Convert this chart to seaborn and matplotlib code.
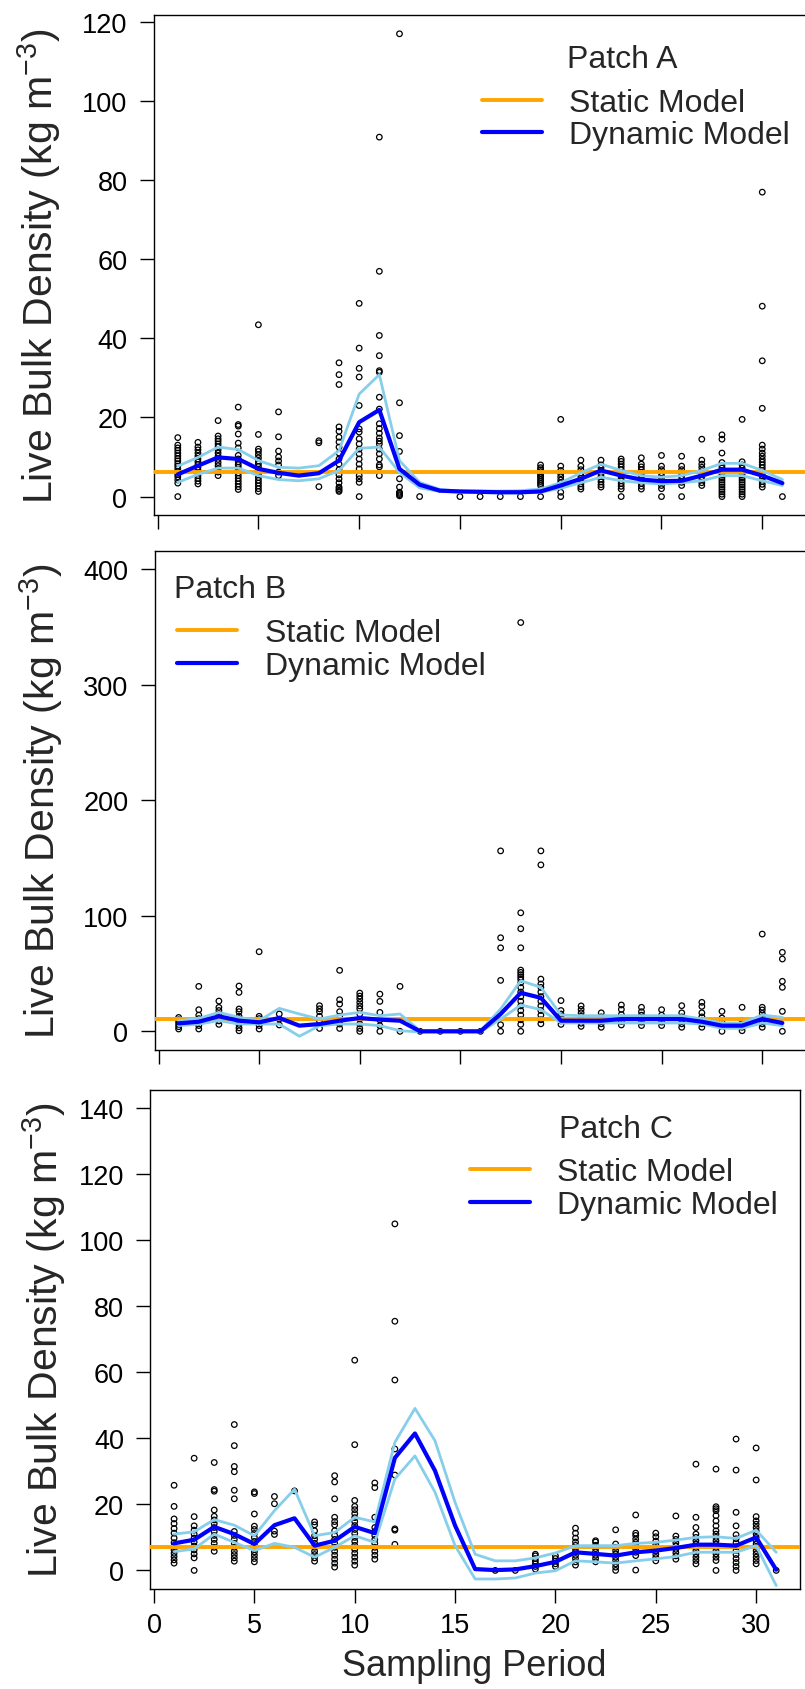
import matplotlib
matplotlib.use("Agg")
import matplotlib.pyplot as plt
import seaborn as sns
import pandas as pd
from matplotlib.lines import Line2D

# ---------------- data ----------------
periods = list(range(1, 32))
xticks = [0, 5, 10, 15, 20, 25, 30]

# Patch A observations (one list per sampling period 1..31)
a_points = [
    [0, 3.4, 4.2, 5.0, 5.6, 6.3, 7.0, 7.7, 8.3, 9.0, 9.6, 10.3, 11.0, 11.7, 12.3, 13.0, 14.9],
    [3.2, 3.9, 4.6, 5.3, 6.0, 6.7, 7.4, 8.1, 8.8, 9.5, 10.2, 11.0, 11.8, 12.5, 13.7],
    [5.3, 6.2, 7.0, 7.8, 8.6, 9.4, 10.2, 11.0, 11.8, 12.6, 13.3, 14.0, 14.6, 15.3, 19.2],
    [1.8, 2.5, 3.2, 3.9, 4.6, 5.3, 6.0, 6.7, 7.4, 8.1, 8.8, 9.5, 10.4, 12.3, 13.5, 15.8, 17.8, 18.2, 22.6],
    [1.3, 2.0, 2.7, 3.4, 4.1, 4.8, 5.5, 6.2, 6.9, 7.6, 8.3, 9.0, 9.8, 10.6, 11.4, 12.0, 15.7, 43.4],
    [5.3, 6.2, 8.0, 9.0, 10.0, 11.5, 15.1, 21.4],
    [],
    [2.5, 13.6, 14.1],
    [1.3, 1.6, 2.0, 2.4, 3.5, 4.5, 5.5, 6.8, 8.2, 9.5, 11.0, 12.5, 13.8, 15.0, 16.5, 17.6, 28.3, 30.8, 33.8],
    [0, 3.6, 4.5, 5.3, 7.0, 8.2, 9.5, 10.8, 12.0, 13.3, 14.6, 16.3, 17.1, 23.0, 30.2, 32.4, 37.5, 48.8],
    [5.3, 7.5, 8.0, 9.5, 10.8, 12.0, 13.3, 14.0, 14.8, 16.0, 17.2, 18.4, 22.1, 25.1, 31.4, 31.8, 35.6, 40.7, 56.9, 90.8],
    [0.2, 0.5, 0.8, 1.1, 2.4, 4.5, 11.4, 15.4, 23.7, 116.9],
    [0],
    [],
    [0], [0], [0], [0],
    [0, 2.8, 3.3, 3.8, 4.3, 4.8, 5.3, 5.8, 6.3, 6.8, 7.3, 8.0],
    [0, 1.1, 2.8, 3.5, 4.2, 5.0, 5.8, 6.6, 7.7, 19.5],
    [1.9, 2.5, 3.2, 3.9, 4.6, 5.3, 6.0, 6.8, 7.7, 9.2],
    [2.4, 3.0, 3.7, 4.4, 5.1, 5.8, 6.5, 7.3, 8.0, 9.2],
    [0, 1.9, 2.6, 3.3, 4.0, 4.7, 5.4, 6.1, 6.8, 7.5, 8.2, 8.9, 9.5],
    [1.9, 2.6, 3.3, 4.0, 4.7, 5.4, 6.1, 6.8, 7.5, 8.2, 9.8],
    [0, 2.0, 2.8, 3.6, 4.4, 5.2, 6.0, 6.8, 7.7, 10.4],
    [0, 2.8, 3.6, 4.4, 5.2, 6.0, 6.8, 7.7, 10.2],
    [2.8, 3.5, 4.2, 5.0, 5.8, 6.6, 7.4, 8.2, 9.2, 14.5],
    [0, 0.6, 1.2, 1.8, 2.4, 3.0, 3.6, 4.2, 4.8, 5.4, 6.0, 6.6, 7.2, 7.8, 8.6, 11.0, 14.5, 15.6],
    [0, 0.6, 1.2, 1.8, 2.4, 3.0, 3.6, 4.2, 4.8, 5.4, 6.0, 6.6, 7.2, 8.0, 8.8, 19.5],
    [2.4, 3.1, 3.8, 4.5, 5.2, 5.9, 6.6, 7.3, 8.0, 8.7, 9.4, 10.2, 11.0, 12.0, 13.0, 22.3, 34.3, 48.1, 76.9],
    [0],
]
a_mean = [5.6, 7.8, 9.9, 9.5, 7.0, 6.0, 5.3, 5.9, 9.1, 18.8, 21.9, 7.0, 3.0, 1.5, 1.3, 1.2,
          1.1, 1.1, 1.3, 2.8, 4.5, 6.6, 5.3, 4.3, 3.9, 4.0, 5.3, 6.8, 6.8, 5.3, 3.4]
a_upper = [7.7, 9.9, 12.5, 11.9, 9.1, 7.4, 7.2, 7.8, 11.6, 25.9, 30.8, 9.1, 3.6, 1.8, 1.4, 1.4,
           1.4, 1.5, 1.9, 3.5, 6.0, 8.2, 6.6, 5.3, 4.9, 5.3, 6.6, 8.4, 8.4, 6.6, 4.3]
a_lower = [3.6, 5.6, 7.2, 7.2, 5.3, 4.3, 4.0, 4.5, 6.6, 12.2, 12.5, 6.1, 2.2, 1.3, 1.1, 1.0,
           0.9, 0.9, 1.1, 2.1, 3.5, 4.9, 4.0, 3.5, 3.2, 3.5, 4.0, 5.3, 5.3, 4.0, 2.8]
a_static = 6.2

# Patch B
b_points = [
    [2, 4, 6, 8, 10, 12],
    [2, 5, 8, 11, 14, 18.7, 38.9],
    [6, 9, 12, 15, 18, 20.7, 26.2],
    [0.5, 3, 6, 9, 11, 13, 17, 19.3, 33.7, 39.2],
    [2, 5, 8, 11, 13, 68.9],
    [5.5, 10.6, 15],
    [],
    [2.5, 9, 13, 17, 19.5, 22.2],
    [2.5, 6.3, 9, 13, 17, 23.6, 27.4, 52.8],
    [0, 2.5, 6.3, 10.6, 15, 19.5, 22, 25, 28, 30.5, 33.1],
    [0, 4.9, 9.8, 16.4, 25.9, 32.2],
    [0, 38.9],
    [0], [0], [0], [0],
    [0, 5.7, 44.1, 72.3, 81, 156.2],
    [0, 6, 10, 14, 18, 22, 26, 30, 34, 38, 42, 45, 47, 49, 51, 53, 72.3, 88.8, 102.6, 353.9],
    [6.5, 10, 14, 18, 22, 26, 30, 34, 38, 41, 45.2, 144.1, 156.2],
    [6, 9, 12, 15, 18, 26.6],
    [4.3, 7, 10, 13, 16, 19, 22],
    [3.5, 6.5, 9.5, 12.5, 16],
    [5.5, 8.5, 11.5, 14.5, 19, 22.8],
    [5, 8, 11, 14, 17, 20.8],
    [5, 8, 11, 14, 18.7],
    [3.5, 6.5, 9.5, 12.5, 16, 22.2],
    [3.5, 6.5, 9.5, 12.5, 16, 21.6, 25.1],
    [0, 9.3, 11.5, 17.3],
    [0.5, 3.5, 6.5, 9.5, 20.8],
    [3.5, 6.5, 9.5, 12.5, 15.5, 18.5, 20.8, 84.2],
    [0, 17.3, 38.1, 43.3, 62.6, 68.4],
]
b_mean = [6.9, 8.3, 13.0, 9.2, 7.8, 11.5, 4.9, 6.3, 9.2, 11.5, 10.1, 9.2, 0, 0, 0, 0,
          15.0, 33.3, 29.0, 9.2, 9.2, 9.2, 10.6, 10.6, 10.6, 10.6, 8.3, 4.9, 4.9, 10.6, 7.2]
b_upper = [9.2, 11.2, 16.4, 12.1, 9.2, 19.9, 15.0, 10.6, 14.1, 16.4, 13.5, 15.0, 0.5, 0.5, 0.5, 0.5,
           19.3, 43.8, 38.1, 14.1, 13.5, 13.5, 13.5, 13.5, 13.5, 13.5, 10.6, 7.2, 7.2, 14.1, 12.1]
b_lower = [4.9, 6.3, 9.2, 6.3, 6.3, 6.3, -4.3, 4.9, 6.3, 6.3, 4.9, 0.5, -0.5, -0.5, -0.5, -0.5,
           10.6, 22.8, 18.8, 7.2, 7.2, 7.2, 7.2, 7.2, 7.2, 7.2, 6.3, 2.6, 2.6, 7.2, 4.9]
b_static = 10.4

# Patch C
c_points = [
    [2.2, 3.2, 4.2, 5.2, 6.2, 7.2, 8.4, 9.8, 11.3, 12.7, 14.2, 15.6, 19.4, 25.8],
    [0, 3.8, 5.0, 6.2, 7.4, 8.6, 9.8, 11.0, 12.2, 13.5, 16.3, 34.0],
    [5.8, 7.0, 8.2, 9.4, 10.6, 11.8, 13.0, 14.2, 15.3, 16.4, 18.3, 24.0, 24.5, 32.7],
    [2.8, 3.8, 4.8, 5.8, 7.0, 8.2, 9.4, 10.6, 11.8, 21.7, 24.3, 29.9, 31.5, 37.8, 44.2],
    [2.6, 3.6, 4.6, 5.6, 6.6, 7.6, 8.8, 10.0, 11.2, 12.4, 13.4, 17.1, 23.3, 23.8],
    [10.9, 11.9, 20.2, 22.4],
    [24.1],
    [2.8, 3.8, 4.8, 5.8, 7.0, 8.2, 9.4, 10.5, 12.0, 13.8, 14.7],
    [1.0, 2.2, 3.4, 4.6, 5.8, 7.0, 8.2, 9.4, 10.6, 12.0, 13.8, 14.8, 16.1, 21.7, 26.8, 28.7],
    [1.6, 2.8, 4.0, 5.2, 6.4, 7.6, 8.8, 10.0, 11.2, 12.4, 13.6, 14.8, 16.0, 17.2, 18.4, 19.4, 21.2, 38.1, 63.7],
    [3.4, 4.6, 5.8, 7.0, 8.2, 9.4, 10.6, 11.8, 13.0, 16.1, 25.1, 26.5],
    [7.9, 12.2, 12.6, 28.9, 36.8, 57.7, 75.5, 105.0],
    [], [], [], [],
    [0], [0],
    [0.4, 1.2, 2.0, 2.8, 3.6, 4.4, 4.9],
    [1.2, 2.0, 2.8, 3.6, 4.4],
    [1.6, 2.6, 3.6, 4.6, 5.6, 6.6, 7.6, 8.6, 9.8, 11.3, 12.8],
    [2.6, 3.6, 4.6, 5.6, 6.6, 7.6, 8.6, 9.0],
    [0, 1.0, 2.0, 3.0, 4.0, 5.0, 6.0, 7.0, 8.0, 12.3],
    [0.1, 4.5, 5.5, 6.5, 7.5, 8.5, 9.5, 10.6, 11.3, 16.8],
    [2.9, 3.9, 4.9, 5.9, 6.9, 7.9, 8.9, 10.2, 11.3],
    [3.4, 4.4, 5.4, 6.4, 7.4, 8.4, 9.4, 10.4, 16.5],
    [2.0, 3.0, 4.0, 5.0, 6.0, 7.0, 8.0, 9.0, 10.0, 11.0, 13.0, 16.1, 32.2],
    [0, 3.0, 4.0, 5.0, 6.0, 7.0, 8.0, 9.0, 10.0, 11.0, 12.0, 13.5, 15.0, 16.6, 18.1, 18.7, 19.3, 30.7],
    [0, 1.2, 2.4, 3.6, 4.8, 6.0, 7.2, 8.4, 9.6, 10.8, 13.5, 17.6, 30.4, 39.8],
    [2.0, 3.0, 4.0, 5.0, 6.0, 7.0, 8.0, 9.0, 10.0, 11.0, 12.0, 13.0, 14.0, 15.0, 16.3, 27.4, 37.1],
    [0],
]
c_mean = [8.2, 9.3, 13.2, 11.0, 8.0, 13.7, 15.8, 7.5, 9.0, 13.2, 11.3, 34.1, 41.5, 30.2, 13.6, 0.4,
          0.1, 0.3, 1.3, 2.6, 5.5, 5.0, 4.5, 5.5, 6.0, 6.8, 7.8, 7.8, 7.5, 10.0, 0.2]
c_upper = [11.0, 11.7, 15.4, 13.7, 10.5, 18.1, 24.6, 10.5, 11.5, 16.1, 14.7, 38.8, 49.1, 39.3, 20.6, 4.9,
           2.9, 2.9, 3.8, 5.3, 7.5, 7.5, 7.5, 8.2, 8.5, 9.2, 10.0, 10.2, 9.7, 12.2, 5.5]
c_lower = [5.7, 6.5, 11.0, 8.5, 6.0, 8.2, 7.0, 4.0, 7.0, 10.5, 8.5, 27.7, 34.7, 23.7, 7.5, -2.6,
           -2.6, -2.3, -0.8, -0.1, 2.9, 2.6, 2.2, 2.9, 3.5, 4.2, 5.5, 5.5, 5.5, 7.5, -4.6]
c_static = 7.2

patch_names = ["Patch A", "Patch B", "Patch C"]
legend_labels = ["Static Model", "Dynamic Model"]
ylabel_text = "Live Bulk Density (kg m$^{-3}$)"
xlabel_text = "Sampling Period"

# ---------------- style ----------------
ORANGE = "#FFA500"
BLUE = "#0000FF"
SKY = "#87CEEB"

sns.set_theme(style="ticks")
plt.rcParams["font.family"] = ["Liberation Sans", "DejaVu Sans"]
plt.rcParams["mathtext.fontset"] = "custom"
plt.rcParams["mathtext.rm"] = "Liberation Sans"
plt.rcParams["mathtext.it"] = "Liberation Sans:italic"
plt.rcParams["mathtext.bf"] = "Liberation Sans:bold"

W, H = 805, 1690
fig = plt.figure(figsize=(W / 100, H / 100), dpi=100)


def rect(l, r, t, b):
    return [l / W, 1 - b / H, (r - l) / W, (b - t) / H]


def fx(x):
    return x / W


def fy(y):
    return 1 - y / H


def draw_panel(box, pts, mean, lower, upper, static, ylim, yticks, show_xlabels):
    ax = fig.add_axes(rect(*box))
    px, pv = [], []
    for p, vals in zip(periods, pts):
        for v in vals:
            px.append(p)
            pv.append(v)
    df = pd.DataFrame({"period": px, "value": pv})
    sns.scatterplot(data=df, x="period", y="value", ax=ax, marker="o", s=16,
                    color="black", linewidth=0.9, legend=False, zorder=2)
    coll = ax.collections[-1]
    coll.set_facecolor("none")
    coll.set_edgecolor("black")
    ax.axhline(static, color=ORANGE, lw=2.8, zorder=3)
    sns.lineplot(x=periods, y=upper, ax=ax, color=SKY, lw=2.0, estimator=None, sort=False, zorder=4)
    sns.lineplot(x=periods, y=lower, ax=ax, color=SKY, lw=2.0, estimator=None, sort=False, zorder=4)
    sns.lineplot(x=periods, y=mean, ax=ax, color=BLUE, lw=3.0, estimator=None, sort=False, zorder=5)
    ax.set_xlim(-0.2, 32.2)
    ax.set_ylim(*ylim)
    ax.set_xticks(xticks)
    ax.set_yticks(yticks)
    ax.set_yticklabels([str(t) for t in yticks])
    if show_xlabels:
        ax.set_xticklabels([str(t) for t in xticks])
    else:
        ax.set_xticklabels([])
    ax.set_xlabel("")
    ax.set_ylabel("")
    ax.tick_params(axis="both", direction="out", length=9.8, width=1.0, color="black",
                   labelsize=19.5, labelcolor="black", bottom=True, left=True)
    ax.tick_params(axis="y", pad=9.0)
    ax.tick_params(axis="x", pad=7.0)
    for s in ax.spines.values():
        s.set_visible(True)
        s.set_color("black")
        s.set_linewidth(1.0)
    ax.grid(False)
    return ax


axA = draw_panel((153.6, 806.6, 15.8, 516.2), a_points, a_mean, a_lower, a_upper, a_static,
                 (-4.7, 121.7), [0, 20, 40, 60, 80, 100, 120], False)
axB = draw_panel((154.5, 806.5, 551.8, 1050.8), b_points, b_mean, b_lower, b_upper, b_static,
                 (-16, 416), [0, 100, 200, 300, 400], False)
axC = draw_panel((150.0, 800.3, 1090.9, 1589.9), c_points, c_mean, c_lower, c_upper, c_static,
                 (-5.6, 145.6), [0, 20, 40, 60, 80, 100, 120, 140], True)

handles = [Line2D([], [], color=ORANGE, lw=2.8), Line2D([], [], color=BLUE, lw=3.0)]
leg_pos = [(481.5, 88.9), (177.1, 619.2), (469.7, 1158.3)]
patch_pos = [(567, 68.2), (173.5, 597.8), (558.6, 1138.4)]
ylab_pos = [(39, 266), (41, 801), (44, 1340)]

for ax, lp, pp, yl, name in zip([axA, axB, axC], leg_pos, patch_pos, ylab_pos, patch_names):
    ax.legend(handles, legend_labels, loc="upper left", bbox_to_anchor=(fx(lp[0]), fy(lp[1])),
              bbox_transform=fig.transFigure, frameon=False, fontsize=23, handlelength=1.89,
              handletextpad=0.85, labelspacing=0.08, borderpad=0, borderaxespad=0)
    fig.text(fx(pp[0]), fy(pp[1]), name, fontsize=23, ha="left", va="baseline")
    fig.text(fx(yl[0]), fy(yl[1]), ylabel_text, fontsize=29.5, rotation=90, ha="center", va="center")

fig.text(fx(474), fy(1667), xlabel_text, fontsize=26, ha="center", va="center")

fig.savefig("out.png", dpi=100)
